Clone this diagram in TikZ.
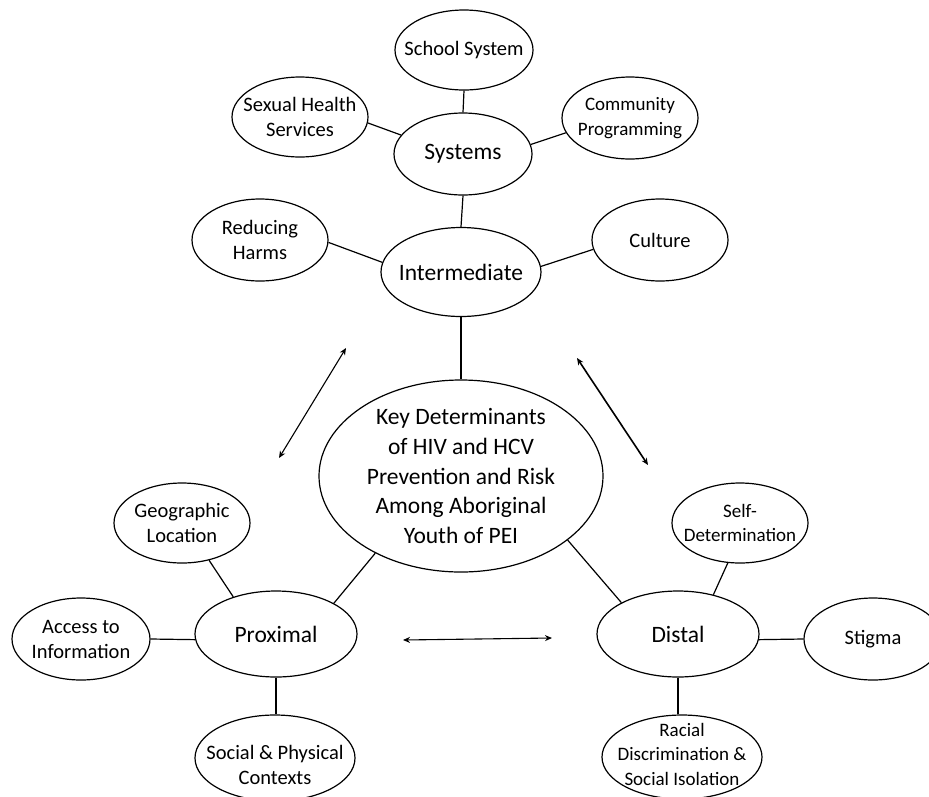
\documentclass[tikz,border=0pt]{standalone}
\usepackage{fontspec}
\setmainfont{Carlito}
\usetikzlibrary{shapes.geometric,arrows.meta}
\begin{document}
\begin{tikzpicture}[x=1pt,y=-1pt,
  ell/.style={ellipse,draw,line width=1.2pt,inner sep=0pt},
  big/.style={font=\fontsize{23.5}{29.6}\selectfont,align=center,inner sep=0pt},
  sml/.style={font=\fontsize{20.5}{25}\selectfont,align=center,inner sep=0pt},
  tny/.style={font=\fontsize{19}{24.5}\selectfont,align=center,inner sep=0pt},
  link/.style={line width=1.2pt},
  twoway/.style={line width=1.1pt,{Stealth[length=7pt,width=6pt]}-{Stealth[length=7pt,width=6pt]}}]
\useasboundingbox (0,0) rectangle (929,796);
% ellipses
\node[ell,minimum width=138,minimum height=80] (school) at (464,50) {};
\node[ell,minimum width=136,minimum height=80] (sexual) at (300,117) {};
\node[ell,minimum width=136,minimum height=82] (comm) at (630,118) {};
\node[ell,minimum width=138,minimum height=82] (systems) at (463,154) {};
\node[ell,minimum width=136,minimum height=82] (reduce) at (260,240) {};
\node[ell,minimum width=160,minimum height=89] (inter) at (461,272) {};
\node[ell,minimum width=136,minimum height=82] (culture) at (660,240) {};
\node[ell,minimum width=284,minimum height=192] (key) at (461,476) {};
\node[ell,minimum width=136,minimum height=80] (geo) at (182,523) {};
\node[ell,minimum width=138,minimum height=82] (access) at (81,639) {};
\node[ell,minimum width=162,minimum height=86] (prox) at (276,634) {};
\node[ell,minimum width=160,minimum height=86] (social) at (275,758) {};
\node[ell,minimum width=136,minimum height=80] (self) at (740,523) {};
\node[ell,minimum width=162,minimum height=86] (distal) at (678,634) {};
\node[ell,minimum width=138,minimum height=82] (stigma) at (873,639) {};
\node[ell,minimum width=160,minimum height=84] (racial) at (682,757) {};
% labels
\node[sml] (tschool) at (school) {School System};
\node[sml] (tsexual) at (sexual) {Sexual Health\\Services};
\node[tny] (tcomm) at (comm) {Community\\Programming};
\node[big] (tsystems) at (systems) {Systems};
\node[sml] (treduce) at (reduce) {Reducing\\Harms};
\node[big] (tinter) at (inter) {Intermediate};
\node[sml] (tculture) at (culture) {Culture};
\node[big] (tkey) at (key) {Key Determinants\\of HIV and HCV\\Prevention and Risk\\Among Aboriginal\\Youth of PEI};
\node[sml] (tgeo) at (geo) {Geographic\\Location};
\node[sml] (taccess) at (access) {Access to\\Information};
\node[big] (tprox) at (prox) {Proximal};
\node[sml] (tsocial) at (275,765) {Social \& Physical\\Contexts};
\node[tny] (tself) at (self) {Self-\\Determination};
\node[big] (tdistal) at (distal) {Distal};
\node[sml] (tstigma) at (stigma) {Stigma};
\node[tny] (tracial) at (682,754) {Racial\\Discrimination \&\\Social Isolation};
% connectors
\draw[link] (school.south) -- (systems.north);
\draw[link] (sexual.-5) -- (systems.163);
\draw[link] (comm.-167) -- (systems.8);
\draw[link] (systems.south) -- (inter.north);
\draw[link] (reduce.-2) -- (inter.173);
\draw[link] (culture.188) -- (inter.4);
\draw[link] (inter.south) -- (key.north);
\draw[link] (key.222) -- (prox.28.5);
\draw[link] (geo.-54) -- (prox.139);
\draw[link] (access.east) -- (prox.184);
\draw[link] (prox.south) -- (social.north -| prox.south);
\draw[link] (key.-31) -- (distal.151);
\draw[link] (self.-107) -- (distal.48);
\draw[link] (distal.-4) -- (stigma.west);
\draw[link] (distal.south) -- (racial.north -| distal.south);
% two-way arrows
\coordinate (a1) at (279,458);
\coordinate (a2) at (346,348);
\coordinate (b1) at (577,358);
\coordinate (b2) at (648,465);
\coordinate (c1) at (403,640);
\coordinate (c2) at (552,638);
\draw[twoway] (a1) -- (a2);
\draw[twoway,line width=1.6pt] (b1) -- (b2);
\draw[twoway] (c1) -- (c2);
\end{tikzpicture}
\end{document}
